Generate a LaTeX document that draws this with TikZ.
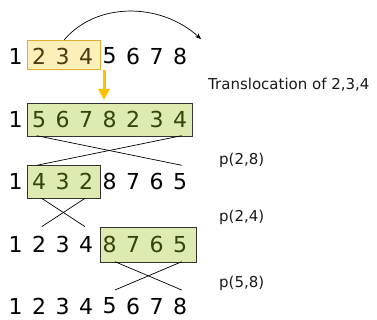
\documentclass[tikz,border=0pt]{standalone}
\usepackage{fontspec}
\setmainfont{DejaVu Sans}
\usetikzlibrary{arrows.meta}
\definecolor{boxyellow}{HTML}{FDEFB8}
\definecolor{edgeyellow}{HTML}{E2AE35}
\definecolor{boxgreen}{HTML}{DDEAB0}
\definecolor{inyellow}{HTML}{4A3A10}
\definecolor{ingreen}{HTML}{34420C}
\definecolor{arrowgold}{HTML}{FFC000}
\begin{document}
\begin{tikzpicture}[x=1pt,y=-1pt,
  digit/.style={inner sep=0pt, font=\fontsize{22}{22}\selectfont},
  tag/.style={inner sep=0pt, anchor=base west, text=black!90, font=\fontsize{15}{16}\selectfont},
  ybox/.style={draw=edgeyellow, fill=boxyellow, line width=0.9pt, inner sep=0pt, anchor=north west},
  gbox/.style={draw=black!80, fill=boxgreen, line width=0.9pt, inner sep=0pt, anchor=north west},
  link/.style={line width=0.7pt},
]
\useasboundingbox (0,0) rectangle (377,320);

% highlighted blocks
\node[ybox, minimum width=72.7pt, minimum height=29pt] (box1) at (27.3,40) {};
\node[gbox, minimum width=164.4pt, minimum height=33pt] (box2) at (27.3,102.7) {};
\node[gbox, minimum width=72.7pt, minimum height=33.3pt] (box3) at (27.3,165) {};
\node[gbox, minimum width=96pt, minimum height=34.4pt] (box4) at (100,227.3) {};

% the five permutations
\foreach \d/\c [count=\i] in {1/black,2/inyellow,3/inyellow,4/inyellow,5/black,6/black,7/black,8/black}
  \node[digit, text=\c] (ra\i) at ({15.5+23.5*(\i-1)},56) {\d};
\foreach \d/\c [count=\i] in {1/black,5/ingreen,6/ingreen,7/ingreen,8/ingreen,2/ingreen,3/ingreen,4/ingreen}
  \node[digit, text=\c] (rb\i) at ({15.5+23.5*(\i-1)},119.5) {\d};
\foreach \d/\c [count=\i] in {1/black,4/ingreen,3/ingreen,2/ingreen,8/black,7/black,6/black,5/black}
  \node[digit, text=\c] (rc\i) at ({15.5+23.5*(\i-1)},181.5) {\d};
\foreach \d/\c [count=\i] in {1/black,2/black,3/black,4/black,8/ingreen,7/ingreen,6/ingreen,5/ingreen}
  \node[digit, text=\c] (rd\i) at ({15.5+23.5*(\i-1)},244.5) {\d};
\foreach \d [count=\i] in {1,2,3,4,5,6,7,8}
  \node[digit] (re\i) at ({15.5+23.5*(\i-1)},306) {\d};

% translocation arc and arrow
\coordinate (arcend) at (201,39);
\draw[link, -{Stealth[length=6pt,width=5pt]}] (box1.north) .. controls (96,2) and (160,2) .. (arcend);
\coordinate (ya) at (104,70);
\coordinate (yb) at (104,100);
\draw[arrowgold, line width=3pt, -{Triangle[length=11pt,width=11pt]}] (ya) -- (yb);

% reversal crossings
\coordinate (c1a) at (36.7,135.7); \coordinate (c1b) at (181.7,165.3);
\coordinate (c1c) at (181.7,135.7); \coordinate (c1d) at (36.7,165.3);
\draw[link] (c1a) -- (c1b);
\draw[link] (c1c) -- (c1d);
\coordinate (c2a) at (41.7,198.3); \coordinate (c2b) at (85,226.7);
\coordinate (c2c) at (85,198.3); \coordinate (c2d) at (41.7,226.7);
\draw[link] (c2a) -- (c2b);
\draw[link] (c2c) -- (c2d);
\coordinate (c3a) at (115,261.7); \coordinate (c3b) at (181.7,290);
\coordinate (c3c) at (181.7,261.7); \coordinate (c3d) at (115,290);
\draw[link] (c3a) -- (c3b);
\draw[link] (c3c) -- (c3d);

% operation labels
\node[tag] (lt) at (208,90) {Translocation of 2,3,4};
\node[tag] (l28) at (219,164.5) {p(2,8)};
\node[tag] (l24) at (219,222) {p(2,4)};
\node[tag] (l58) at (219,287) {p(5,8)};
\end{tikzpicture}
\end{document}
